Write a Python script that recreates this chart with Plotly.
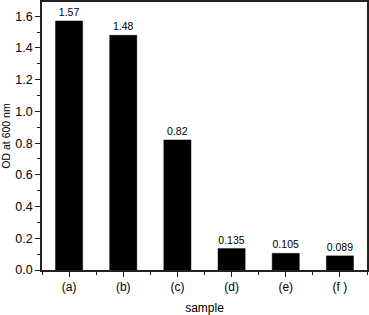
import plotly.graph_objects as go

categories = ["(a)", "(b)", "(c)", "(d)", "(e)", "(f )"]
values = [1.57, 1.48, 0.82, 0.135, 0.105, 0.089]
value_labels = ["1.57", "1.48", "0.82", "0.135", "0.105", "0.089"]
y_ticks = [0.0, 0.2, 0.4, 0.6, 0.8, 1.0, 1.2, 1.4, 1.6]
y_tick_labels = ["0.0", "0.2", "0.4", "0.6", "0.8", "1.0", "1.2", "1.4", "1.6"]

xpos = list(range(len(categories)))
font = "Liberation Sans, Arial, sans-serif"

fig = go.Figure(go.Bar(
    x=xpos, y=values, width=0.5,
    marker=dict(color="black", line=dict(color="black", width=0.5)),
    text=value_labels, textposition="outside", cliponaxis=False,
    textfont=dict(family=font, size=10.5, color="black"),
))

axis_line = dict(showline=True, linecolor="#222", linewidth=1.5, mirror=True,
                 showgrid=False, zeroline=False, automargin=False)

fig.update_layout(
    width=369, height=315,
    margin=dict(l=42, r=2, t=2, b=45),
    plot_bgcolor="white", paper_bgcolor="white",
    font=dict(family=font, size=12, color="black"),
    showlegend=False,
    xaxis=dict(**axis_line, range=[-0.5, 5.5], tickmode="array", tickvals=xpos,
               ticktext=categories, ticks="outside", ticklen=5, tickwidth=1,
               tickcolor="#222", tickfont=dict(size=12),
               minor=dict(ticks="outside", ticklen=3, tickwidth=1, tickcolor="#222",
                          tick0=0.5, dtick=1),
               title=dict(text="sample", font=dict(size=12), standoff=10)),
    yaxis=dict(**axis_line, range=[0, 1.69], tickmode="array", tickvals=y_ticks,
               ticktext=y_tick_labels, ticks="outside", ticklen=5, tickwidth=1,
               tickcolor="#222", tickfont=dict(size=12.5),
               minor=dict(ticks="outside", ticklen=3, tickwidth=1, tickcolor="#222",
                          tick0=0.1, dtick=0.2),
               title=dict(text="OD at 600 nm", font=dict(size=10.5), standoff=6)),
)

fig.write_html("out.html", config={"displayModeBar": False},
               post_script="document.body.style.margin='0';")
